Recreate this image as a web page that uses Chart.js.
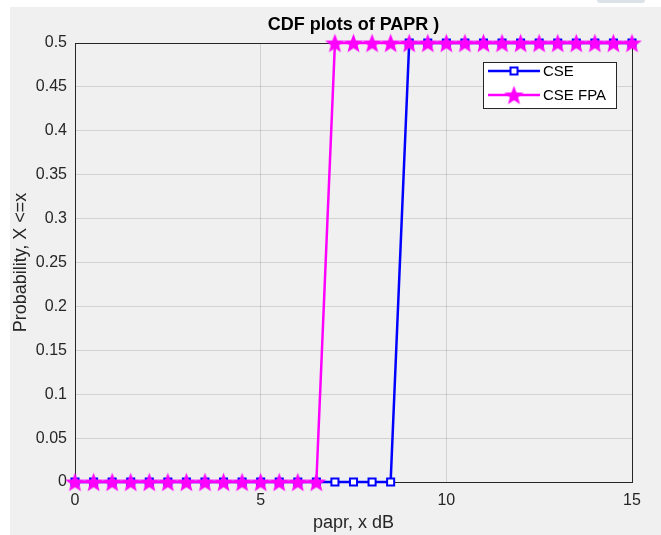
<!DOCTYPE html>
<html>
<head>
<meta charset="utf-8">
<script src="https://cdn.jsdelivr.net/npm/chart.js@4/dist/chart.umd.min.js"></script>
<style>
  html, body { margin: 0; padding: 0; background: #ffffff; }
  #fig { position: absolute; left: 10px; top: 7px; width: 651px; height: 528px; background: #f0f0f0; }
  #tool { position: absolute; left: 597px; top: -3px; width: 48px; height: 6px; border-radius: 3px; background: #dde2e8; }
</style>
</head>
<body>
<div id="tool"></div>
<div id="fig"><canvas id="cdfChart" width="651" height="528"></canvas></div>
<script>
// papr values (dB) where the CDF is sampled
const papr = [0, 0.5, 1, 1.5, 2, 2.5, 3, 3.5, 4, 4.5, 5, 5.5, 6, 6.5, 7, 7.5,
              8, 8.5, 9, 9.5, 10, 10.5, 11, 11.5, 12, 12.5, 13, 13.5, 14, 14.5, 15];
const cdfCSE = [0, 0, 0, 0, 0, 0, 0, 0, 0, 0, 0, 0, 0, 0, 0, 0,
                0, 0, 0.5, 0.5, 0.5, 0.5, 0.5, 0.5, 0.5, 0.5, 0.5, 0.5, 0.5, 0.5, 0.5];
const cdfFPA = [0, 0, 0, 0, 0, 0, 0, 0, 0, 0, 0, 0, 0, 0, 0.5, 0.5,
                0.5, 0.5, 0.5, 0.5, 0.5, 0.5, 0.5, 0.5, 0.5, 0.5, 0.5, 0.5, 0.5, 0.5, 0.5];
const seriesNames = ["CSE", "CSE FPA"];
const xTicks = [0, 5, 10, 15];
const yTicks = [0, 0.05, 0.1, 0.15, 0.2, 0.25, 0.3, 0.35, 0.4, 0.45, 0.5];

const FONT = "'Liberation Sans', Arial, Helvetica, sans-serif";
const AXIS = "#262626";

// filled pentagram marker, like matlab's 'p'
function makeStar(size, color) {
  const c = document.createElement("canvas");
  c.width = size; c.height = size;
  const g = c.getContext("2d");
  const cx = size / 2, cy = size / 2 + 1;
  const R = size / 2 - 0.2, r = R * 0.42;
  g.beginPath();
  for (let i = 0; i < 10; i++) {
    const rad = i % 2 === 0 ? R : r;
    const a = -Math.PI / 2 + i * Math.PI / 5;
    const px = cx + rad * Math.cos(a), py = cy + rad * Math.sin(a);
    if (i === 0) g.moveTo(px, py); else g.lineTo(px, py);
  }
  g.closePath();
  g.fillStyle = color;
  g.fill();
  return c;
}
const star = makeStar(21, "#ff00ff");

const toPoints = ys => papr.map((x, i) => ({ x: x, y: ys[i] }));

// title, box outline and legend, matlab style
const figurePlugin = {
  id: "figureBits",
  beforeDatasetsDraw(chart) {
    const { ctx, chartArea: a } = chart;
    ctx.save();
    ctx.strokeStyle = AXIS;
    ctx.lineWidth = 1;
    ctx.strokeRect(a.left + 0.5, a.top + 0.5, a.right - a.left, a.bottom - a.top);
    ctx.restore();
  },
  afterDraw(chart) {
    const { ctx, chartArea: a } = chart;
    ctx.save();
    ctx.fillStyle = "#000000";
    ctx.font = "bold 18px " + FONT;
    ctx.textAlign = "center";
    ctx.textBaseline = "alphabetic";
    ctx.fillText("CDF plots of PAPR )", (a.left + a.right) / 2, 23);

    // legend
    const lx = 473, ly = 55, lw = 133, lh = 46;
    ctx.fillStyle = "#ffffff";
    ctx.fillRect(lx, ly, lw, lh);
    ctx.strokeStyle = AXIS;
    ctx.lineWidth = 1;
    ctx.strokeRect(lx + 0.5, ly + 0.5, lw, lh);
    const rows = [
      { y: ly + 9, color: "#0000ff", marker: "rect" },
      { y: ly + 33, color: "#ff00ff", marker: "star" }
    ];
    ctx.font = "15px " + FONT;
    ctx.textAlign = "left";
    ctx.textBaseline = "middle";
    rows.forEach((r, i) => {
      ctx.strokeStyle = r.color;
      ctx.lineWidth = 2.5;
      ctx.beginPath();
      ctx.moveTo(lx + 5, r.y);
      ctx.lineTo(lx + 57, r.y);
      ctx.stroke();
      if (r.marker === "rect") {
        ctx.fillStyle = "#ffffff";
        ctx.lineWidth = 2;
        ctx.fillRect(lx + 27.5, r.y - 3.5, 7, 7);
        ctx.strokeRect(lx + 27.5, r.y - 3.5, 7, 7);
      } else {
        ctx.drawImage(star, lx + 31 - 10.5, r.y - 10.5);
      }
      ctx.fillStyle = "#000000";
      ctx.fillText(seriesNames[i], lx + 60, r.y + 1);
    });
    ctx.restore();
  }
};

const tickFmt = v => String(parseFloat(Number(v).toFixed(2)));

new Chart(document.getElementById("cdfChart").getContext("2d"), {
  type: "line",
  data: {
    datasets: [
      {
        label: seriesNames[0],
        data: toPoints(cdfCSE),
        borderColor: "#0000ff",
        borderWidth: 2.5,
        pointStyle: "rect",
        pointRadius: 5,
        pointBorderWidth: 2,
        pointBorderColor: "#0000ff",
        pointBackgroundColor: "#ffffff",
        tension: 0,
        clip: false,
        order: 2
      },
      {
        label: seriesNames[1],
        data: toPoints(cdfFPA),
        borderColor: "#ff00ff",
        borderWidth: 2.5,
        pointStyle: star,
        pointRadius: 10,
        tension: 0,
        clip: false,
        order: 1
      }
    ]
  },
  options: {
    responsive: false,
    animation: false,
    layout: { padding: { top: 36, right: 29, left: 0, bottom: 0 } },
    plugins: {
      legend: { display: false },
      tooltip: { enabled: false }
    },
    scales: {
      x: {
        type: "linear",
        min: 0,
        max: 15,
        afterBuildTicks: s => { s.ticks = xTicks.map(v => ({ value: v })); },
        afterFit: s => { s.height = 53; },
        ticks: { color: AXIS, font: { family: FONT, size: 16 }, padding: 9, maxRotation: 0, callback: tickFmt },
        grid: { color: "rgba(38,38,38,0.15)", drawTicks: false },
        border: { color: AXIS },
        title: { display: true, text: "papr, x dB", color: AXIS, font: { family: FONT, size: 18 }, padding: { top: 0, bottom: 1 } }
      },
      y: {
        min: 0,
        max: 0.5,
        afterBuildTicks: s => { s.ticks = yTicks.map(v => ({ value: v })); },
        afterFit: s => { s.width = 65; },
        ticks: { color: AXIS, font: { family: FONT, size: 16 }, padding: 8, callback: tickFmt },
        grid: { color: "rgba(38,38,38,0.15)", drawTicks: false },
        border: { color: AXIS },
        title: { display: true, text: "Probability, X <=x", color: AXIS, font: { family: FONT, size: 18 }, padding: { top: 0, bottom: 0 } }
      }
    }
  },
  plugins: [figurePlugin]
});
</script>
</body>
</html>
